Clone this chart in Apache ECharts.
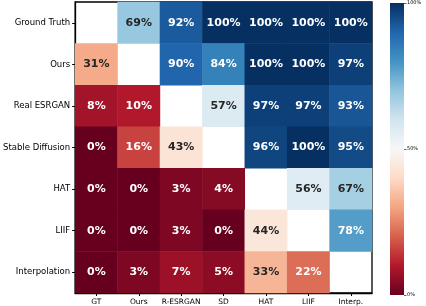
<!DOCTYPE html>
<html><head><meta charset="utf-8">
<script src="https://cdn.jsdelivr.net/npm/echarts@6/dist/echarts.min.js"></script>
<style>html,body{margin:0;padding:0;background:#fff}#c{width:426px;height:306px}</style>
</head><body><div id="c"></div>
<script>
const rowLabels = ['Ground Truth','Ours','Real ESRGAN','Stable Diffusion','HAT','LIIF','Interpolation'];
const colLabels = ['GT','Ours','R-ESRGAN','SD','HAT','LIIF','Interp.'];
const rowGT     = [null,69,92,100,100,100,100];
const rowOurs   = [31,null,90,84,100,100,97];
const rowRESR   = [8,10,null,57,97,97,93];
const rowSD     = [0,16,43,null,96,100,95];
const rowHAT    = [0,0,3,4,null,56,67];
const rowLIIF   = [0,0,3,0,44,null,78];
const rowInterp = [0,3,7,5,33,22,null];
const matrix = [rowGT,rowOurs,rowRESR,rowSD,rowHAT,rowLIIF,rowInterp];
const cbTicks = [0,50,100];

const RdBu = ['#67001f','#b2182b','#d6604d','#f4a582','#fddbc7','#f7f7f7','#d1e5f0','#92c5de','#4393c3','#2166ac','#053061'];

const data = [];
matrix.forEach((row,r)=>row.forEach((v,c)=>{
  if(v===null) return;
  const dark = v>=30 && v<=70;
  data.push({value:[c,r,v], label:{color: dark?'#262626':'#ffffff'}});
}));

const chart = echarts.init(document.getElementById('c'));
const font = 'DejaVu Sans';
chart.setOption({
  animation:false,
  backgroundColor:'#fff',
  textStyle:{fontFamily:font},
  grid:[
    {left:75,top:2,width:297,height:292,show:true,borderColor:'#000',borderWidth:1.3,backgroundColor:'#fff'},
    {left:390,top:3,width:14,height:292}
  ],
  xAxis:[
    {type:'category',gridIndex:0,data:colLabels,position:'bottom',
     axisLine:{show:true,lineStyle:{color:'#000',width:1.3}},
     axisTick:{show:true,alignWithLabel:true,length:3,lineStyle:{color:'#000'}},
     axisLabel:{color:'#000',fontSize:7.5,fontFamily:font,margin:5,interval:0},splitLine:{show:false}},
    {type:'category',gridIndex:1,data:['cb'],show:false}
  ],
  yAxis:[
    {type:'category',gridIndex:0,data:rowLabels,inverse:true,
     axisLine:{show:true,lineStyle:{color:'#000',width:1.3}},
     axisTick:{show:true,alignWithLabel:true,length:3,lineStyle:{color:'#000'}},
     axisLabel:{color:'#000',fontSize:8.5,fontFamily:font,margin:5,interval:0},splitLine:{show:false}},
    {type:'value',gridIndex:1,min:0,max:100,interval:50,position:'right',
     axisLine:{show:false},
     axisTick:{show:true,length:2.5,lineStyle:{color:'#000',width:0.6}},
     axisLabel:{color:'#000',fontSize:5,fontFamily:font,margin:3,formatter:'{value}%'},
     splitLine:{show:false}}
  ],
  visualMap:{show:false,type:'continuous',min:0,max:100,seriesIndex:0,dimension:2,inRange:{color:RdBu}},
  series:[
    {type:'heatmap',xAxisIndex:0,yAxisIndex:0,data:data,
     label:{show:true,fontSize:11,fontWeight:'bold',fontFamily:font,formatter:p=>p.value[2]+'%'},
     itemStyle:{borderWidth:0}},
    {type:'bar',xAxisIndex:1,yAxisIndex:1,data:[cbTicks[cbTicks.length-1]],barWidth:'100%',silent:true,
     itemStyle:{color:new echarts.graphic.LinearGradient(0,1,0,0,RdBu.map((c,i)=>({offset:i/(RdBu.length-1),color:c})))}}
  ]
});
</script></body></html>
